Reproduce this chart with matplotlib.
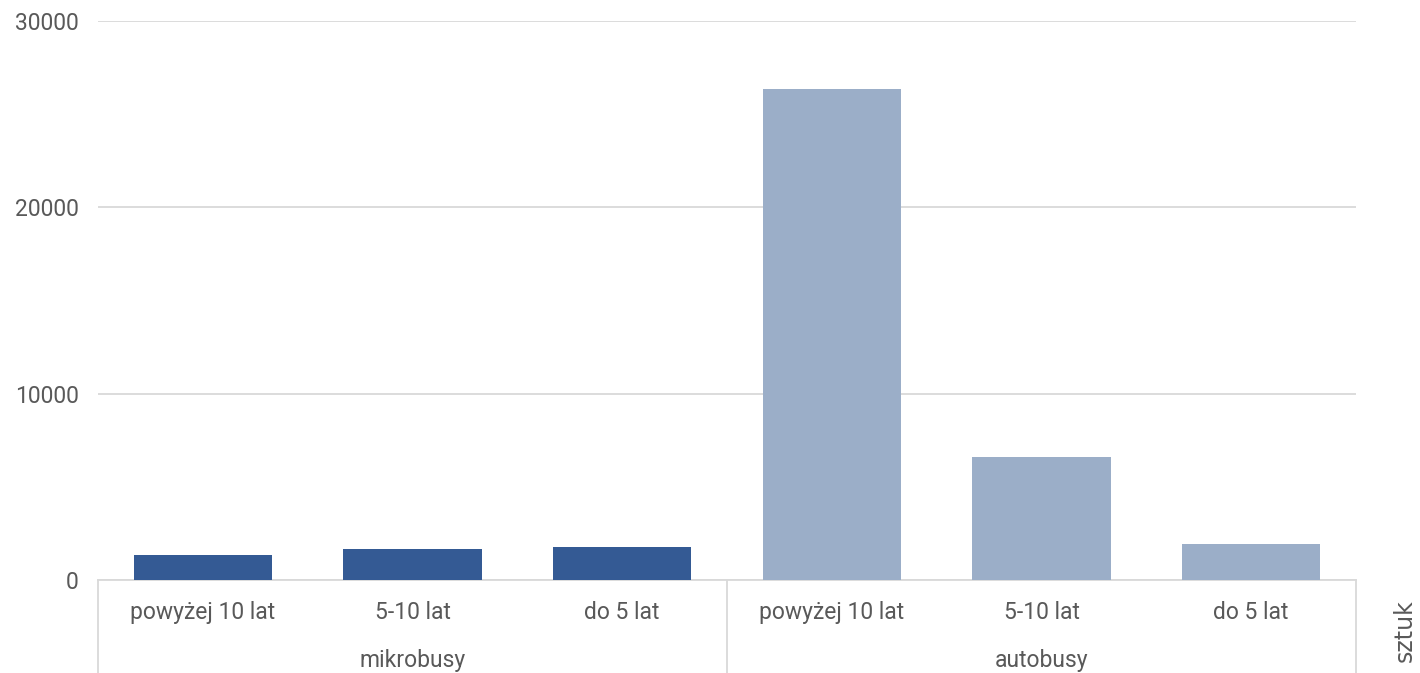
import matplotlib.pyplot as plt

# values
groups = ["mikrobusy", "autobusy"]
ages = ["powyżej 10 lat", "5-10 lat", "do 5 lat"]
mikrobusy = [1350, 1650, 1750]
autobusy = [26350, 6600, 1950]
yticks = [0, 10000, 20000, 30000]

plt.rcParams['font.family'] = ['Roboto', 'DejaVu Sans']
txt = '#595959'
grid = '#D9D9D9'

fig = plt.figure(figsize=(14.2, 6.73), dpi=100)
ax = fig.add_axes([98 / 1420, 1 - 580 / 673, (1356 - 98) / 1420, (580 - 21) / 673])

vals = mikrobusy + autobusy
cols = ['#345A94'] * len(mikrobusy) + ['#9BAEC8'] * len(autobusy)
xs = list(range(len(vals)))
ax.bar(xs, vals, width=0.66, color=cols, zorder=3)

ax.set_xlim(-0.5, len(vals) - 0.5)
ax.set_ylim(0, 30000)
ax.set_yticks(yticks)
ax.set_yticklabels([str(v) for v in yticks], color=txt, fontsize=16.5)
ax.tick_params(axis='y', length=0, pad=14)
ax.set_xticks([])
ax.grid(axis='y', color=grid, linewidth=1.3, zorder=0)
for s in ['top', 'right', 'left']:
    ax.spines[s].set_visible(False)
ax.spines['bottom'].set_color(grid)
ax.spines['bottom'].set_linewidth(1.3)

# two-level category axis
labels = ages + ages
for x, lab in zip(xs, labels):
    ax.text(x, -1750, lab, ha='center', va='center', color=txt, fontsize=16.5, clip_on=False)
n = len(ages)
for i, g in enumerate(groups):
    ax.text(i * n + (n - 1) / 2, -4300, g, ha='center', va='center', color=txt, fontsize=16.5, clip_on=False)
for b in range(len(groups) + 1):
    ax.plot([b * n - 0.5, b * n - 0.5], [0, -5200], color=grid, linewidth=1.3, clip_on=False)

fig.text(1405 / 1420, 1 - 631 / 673, "sztuk", rotation=90, ha='center', va='center',
         color=txt, fontsize=17, family='DejaVu Sans')

plt.savefig('out.png', dpi=100)
